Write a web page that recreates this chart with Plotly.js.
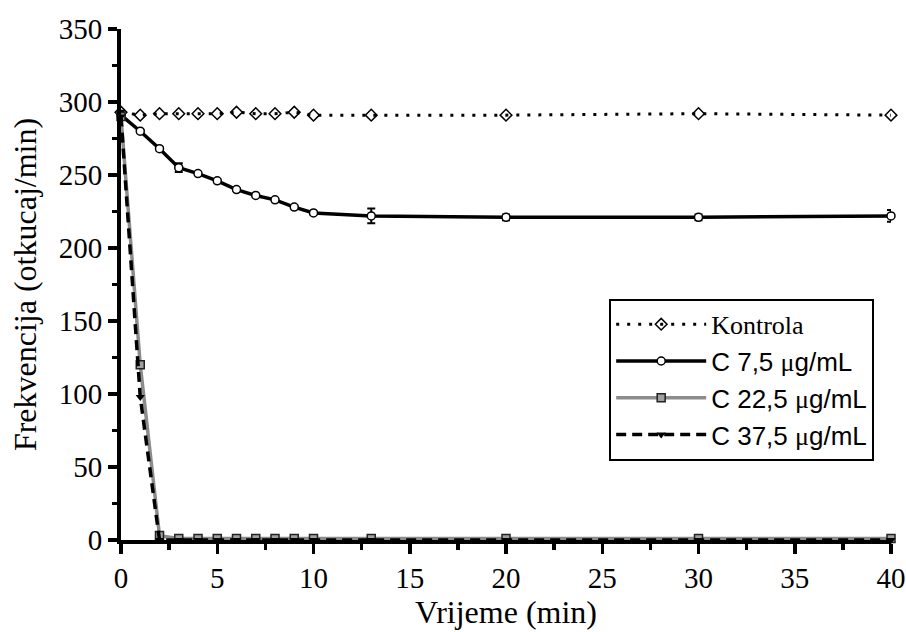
<!DOCTYPE html>
<html><head><meta charset="utf-8">
<script src="https://cdn.plot.ly/plotly-3.0.1.min.js"></script>
<style>html,body{margin:0;padding:0;background:#fff}#chart{width:906px;height:632px}</style>
</head><body><div id="chart"></div>
<script>
const time = [0,1,2,3,4,5,6,7,8,9,10,13,20,30,40];
const kontrola = [293,291,292,292,292,292,293,292,292,293,291,291,291,292,291];
const c75 = [291,280,268,255,251,246,240,236,233,228,224,222,221,221,222];
const c75err = [3,1,1,3,1,1,1,1,1,1,1,5,2,2,4];
const c225 = [290,120,3,1,1,1,1,1,1,1,1,1,1,1,1];
const c375 = [290,98,0,0,0,0,0,0,0,0,0,0,0,0,0];
const mu = '<span style="font-family:\'Liberation Serif\'">μ</span>';
const names = ['<span style="font-family:\'Liberation Serif\'">Kontrola</span>',
  'C 7,5 ' + mu + 'g/mL', 'C 22,5 ' + mu + 'g/mL', 'C 37,5 ' + mu + 'g/mL'];

const traces = [
 {x:time,y:kontrola,name:names[0],mode:'lines+markers',line:{color:'#000',width:3,dash:'3px,8px'},
  marker:{symbol:'diamond-open',size:9,color:'#000',line:{width:1.5}},cliponaxis:false},
 {x:time,y:c75,name:names[1],mode:'lines+markers',line:{color:'#000',width:3.5},
  error_y:{type:'data',array:c75err,color:'#000',thickness:2,width:4},
  marker:{symbol:'circle',size:8,color:'#fff',line:{width:1.5,color:'#000'}},cliponaxis:false},
 {x:time,y:c225,name:names[2],mode:'lines+markers',line:{color:'#8c8c8c',width:3.5},
  marker:{symbol:'square',size:8,color:'#a0a0a0',line:{width:1.5,color:'#222'}},cliponaxis:false},
 {x:time,y:c375,name:names[3],mode:'lines+markers',line:{color:'#000',width:3.5,dash:'10px,6px'},
  marker:{symbol:'triangle-down',size:8,color:'#000'},cliponaxis:false}
];

const layout = {
 width:906,height:632,
 margin:{l:121,r:15,t:29,b:92},
 paper_bgcolor:'#fff',plot_bgcolor:'#fff',
 showlegend:true,
 font:{family:'Liberation Serif',color:'#000',size:29},
 xaxis:{range:[0,40],tick0:0,dtick:5,showgrid:false,zeroline:false,
  showline:true,linecolor:'#000',linewidth:3.5,ticks:'outside',ticklen:10,tickwidth:3.5,tickcolor:'#000',
  minor:{dtick:2.5,ticks:'outside',ticklen:6,tickwidth:3.5,tickcolor:'#000'},
  tickfont:{family:'Liberation Serif',size:29},
  title:{text:'Vrijeme (min)',font:{family:'Liberation Serif',size:32},standoff:6}},
 yaxis:{range:[0,350],tick0:0,dtick:50,showgrid:false,zeroline:false,
  showline:true,linecolor:'#000',linewidth:4,ticks:'outside',ticklen:9,tickwidth:3.5,tickcolor:'#000',
  minor:{dtick:25,ticks:'outside',ticklen:5,tickwidth:3.5,tickcolor:'#000'},
  tickfont:{family:'Liberation Serif',size:29},
  title:{text:'Frekvencija (otkucaj/min)',font:{family:'Liberation Serif',size:32},standoff:14}},
 legend:{x:0.634,y:0.472,xanchor:'left',yanchor:'top',bgcolor:'#fff',bordercolor:'#000',borderwidth:2,
  font:{family:'Liberation Sans',size:26,color:'#000'},itemwidth:90,tracegroupgap:0}
};
Plotly.newPlot('chart',traces,layout,{staticPlot:true,displayModeBar:false});
</script></body></html>
